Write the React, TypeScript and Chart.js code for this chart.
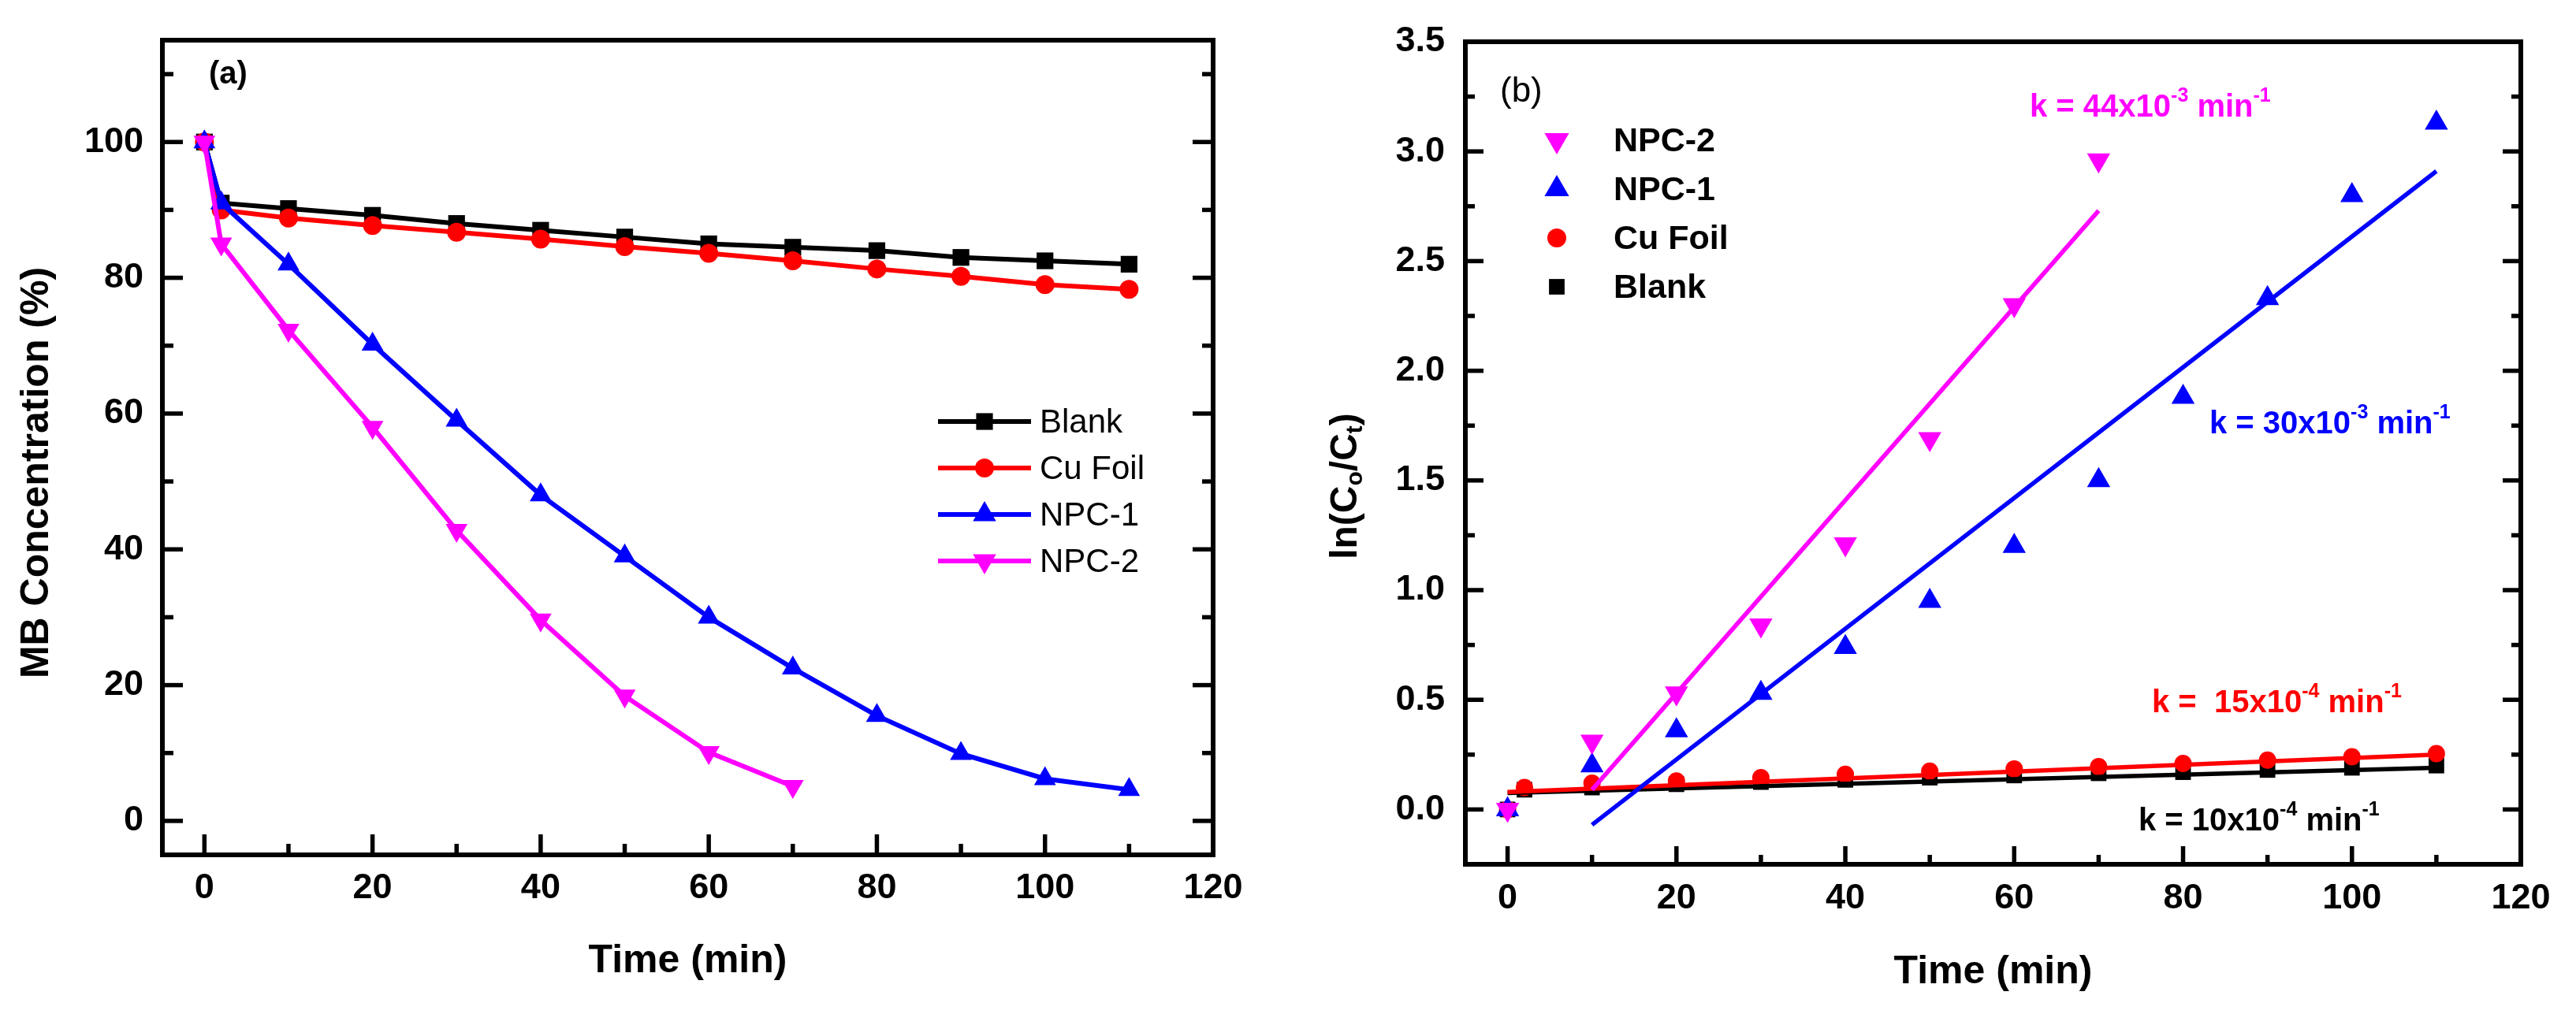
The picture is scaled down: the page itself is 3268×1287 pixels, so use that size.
import React, { useEffect, useRef } from 'react';
import { Chart, registerables } from 'chart.js';

Chart.register(...registerables);

const FONT = '"Liberation Sans", Arial, sans-serif';
Chart.defaults.font.family = FONT;
Chart.defaults.color = '#000';

// ---- panel (a): MB concentration (%) vs time ----
const timeA = [0, 2, 10, 20, 30, 40, 50, 60, 70, 80, 90, 100, 110];
const blankA = [100, 91, 90.2, 89.2, 88, 87, 86, 85, 84.5, 84, 83, 82.5, 82];
const cuFoilA = [100, 90, 88.8, 87.7, 86.7, 85.7, 84.6, 83.6, 82.5, 81.3, 80.2, 79, 78.3];
const npc1A = [100, 91, 82, 70.2, 59, 48, 39, 30, 22.5, 15.5, 9.9, 6.2, 4.6];
const timeA2 = [0, 2, 10, 20, 30, 40, 50, 60, 70];
const npc2A = [100, 85, 72.3, 58, 42.8, 29.6, 18.4, 10.1, 5.1];

// ---- panel (b): ln(Co/Ct) vs time, points + linear fits ----
const timeB = [0, 2, 10, 20, 30, 40, 50, 60, 70, 80, 90, 100, 110];
const blankB = [0, 0.09, 0.1, 0.115, 0.125, 0.135, 0.145, 0.155, 0.165, 0.17, 0.18, 0.19, 0.2];
const cuFoilB = [0, 0.1, 0.12, 0.13, 0.145, 0.16, 0.175, 0.185, 0.195, 0.21, 0.225, 0.24, 0.255];
const timeB1 = [0, 10, 20, 30, 40, 50, 60, 70, 80, 90, 100, 110];
const npc1B = [0, 0.2, 0.36, 0.53, 0.74, 0.95, 1.2, 1.5, 1.88, 2.33, 2.8, 3.13];
const timeB2 = [0, 10, 20, 30, 40, 50, 60, 70];
const npc2B = [0, 0.31, 0.53, 0.84, 1.21, 1.69, 2.3, 2.96];

const fitTimeFlat = [0, 110];
const blankFit = [0.075, 0.19];
const cuFoilFit = [0.08, 0.25];
const fitTime1 = [10, 110];
const npc1Fit = [-0.07, 2.91];
const fitTime2 = [10, 70];
const npc2Fit = [0.09, 2.73];

// ---- ticks ----
const xTicks = [0, 20, 40, 60, 80, 100, 120];
const xMinor = [10, 30, 50, 70, 90, 110];
const yTicksA = [0, 20, 40, 60, 80, 100];
const yMinorA = [10, 30, 50, 70, 90, 110];
const yTicksB = [0, 0.5, 1, 1.5, 2, 2.5, 3, 3.5];
const yMinorB = [0.25, 0.75, 1.25, 1.75, 2.25, 2.75, 3.25];

const BLACK = '#000000';
const RED = '#FF0000';
const BLUE = '#0000FF';
const MAGENTA = '#FF00FF';

const W = 1634;
const H = 1287;

const pts = (xs: number[], ys: number[]) => xs.map((x, i) => ({ x, y: ys[i] }));

function drawMarker(ctx: CanvasRenderingContext2D, style: string, x: number, y: number, r: number) {
  ctx.beginPath();
  if (style === 'rect') {
    const s = r * Math.SQRT1_2;
    ctx.rect(x - s, y - s, 2 * s, 2 * s);
  } else if (style === 'circle') {
    ctx.arc(x, y, r, 0, Math.PI * 2);
  } else {
    const d = style === 'down' ? -1 : 1;
    ctx.moveTo(x, y - d * r);
    ctx.lineTo(x + 0.866 * r, y + d * 0.5 * r);
    ctx.lineTo(x - 0.866 * r, y + d * 0.5 * r);
    ctx.closePath();
  }
  ctx.fill();
}

type Part = { t: string; sup?: boolean; sub?: boolean };

// draws text with super/subscripts, left aligned, vertically centred on y
function drawRich(ctx: CanvasRenderingContext2D, parts: Part[], x: number, y: number, size: number, weight: string) {
  ctx.textBaseline = 'middle';
  ctx.textAlign = 'left';
  let cx = x;
  parts.forEach((p) => {
    const small = p.sup || p.sub;
    ctx.font = `${weight} ${small ? Math.round(size * 0.62) : size}px ${FONT}`;
    const dy = p.sup ? -size * 0.38 : p.sub ? size * 0.25 : 0;
    ctx.fillText(p.t, cx, y + dy);
    cx += ctx.measureText(p.t).width;
  });
  return cx - x;
}

function measureRich(ctx: CanvasRenderingContext2D, parts: Part[], size: number, weight: string) {
  let w = 0;
  parts.forEach((p) => {
    const small = p.sup || p.sub;
    ctx.font = `${weight} ${small ? Math.round(size * 0.62) : size}px ${FONT}`;
    w += ctx.measureText(p.t).width;
  });
  return w;
}

function framePlugin(xMin: number[], yMin: number[], major: number, minor: number) {
  return {
    id: 'frame',
    afterDatasetsDraw(chart: any) {
      const { ctx, chartArea } = chart;
      const { left, right, top, bottom } = chartArea;
      const xs = chart.scales.x;
      const ys = chart.scales.y;
      ctx.save();
      ctx.strokeStyle = BLACK;
      ctx.lineWidth = 5.5;
      ctx.lineCap = 'butt';
      const seg = (x0: number, y0: number, x1: number, y1: number) => {
        ctx.beginPath();
        ctx.moveTo(x0, y0);
        ctx.lineTo(x1, y1);
        ctx.stroke();
      };
      xs.ticks.forEach((t: any) => {
        const px = xs.getPixelForValue(t.value);
        seg(px, bottom, px, bottom - major);
      });
      xMin.forEach((v) => {
        const px = xs.getPixelForValue(v);
        seg(px, bottom, px, bottom - minor);
      });
      ys.ticks.forEach((t: any) => {
        const py = ys.getPixelForValue(t.value);
        seg(left, py, left + major, py);
        seg(right, py, right - major, py);
      });
      yMin.forEach((v) => {
        const py = ys.getPixelForValue(v);
        seg(left, py, left + minor, py);
        seg(right, py, right - minor, py);
      });
      ctx.lineWidth = 6;
      ctx.strokeRect(left, top, right - left, bottom - top);
      ctx.restore();
    },
  };
}

function xAxis(axisHeight: number, labelPad: number, titlePad: number) {
  return {
    type: 'linear',
    min: -5,
    max: 120,
    afterBuildTicks: (s: any) => {
      s.ticks = xTicks.map((v) => ({ value: v }));
    },
    afterFit: (s: any) => {
      s.height = axisHeight;
    },
    grid: { display: false, drawTicks: false },
    border: { display: false },
    ticks: {
      padding: labelPad,
      autoSkip: false,
      maxRotation: 0,
      color: BLACK,
      font: { size: 45, weight: 'bold' },
      callback: (v: any) => String(v),
    },
    title: {
      display: true,
      text: 'Time (min)',
      color: BLACK,
      font: { size: 50, weight: 'bold' },
      padding: { top: 0, bottom: titlePad },
    },
  };
}

function yAxis(min: number, max: number, ticks: number[], axisWidth: number, pad: number, fmt: (v: number) => string) {
  return {
    type: 'linear',
    min,
    max,
    afterBuildTicks: (s: any) => {
      s.ticks = ticks.map((v) => ({ value: v }));
    },
    afterFit: (s: any) => {
      s.width = axisWidth;
    },
    grid: { display: false, drawTicks: false },
    border: { display: false },
    ticks: {
      padding: pad,
      autoSkip: false,
      color: BLACK,
      font: { size: 45, weight: 'bold' },
      callback: (v: any) => fmt(Number(v)),
    },
  };
}

const lineSet = (label: string, xs: number[], ys: number[], color: string, style: string, r: number, rot = 0) => ({
  label,
  data: pts(xs, ys),
  showLine: true,
  borderColor: color,
  backgroundColor: color,
  borderWidth: 6,
  pointStyle: style,
  pointRotation: rot,
  pointRadius: r,
  pointBorderWidth: 0,
  tension: 0,
});

const markSet = (label: string, xs: number[], ys: number[], color: string, style: string, r: number, rot = 0) => ({
  label,
  data: pts(xs, ys),
  showLine: false,
  backgroundColor: color,
  borderColor: color,
  pointStyle: style,
  pointRotation: rot,
  pointRadius: r,
  pointBorderWidth: 0,
});

const fitSet = (label: string, xs: number[], ys: number[], color: string) => ({
  label,
  data: pts(xs, ys),
  showLine: true,
  borderColor: color,
  borderWidth: 5.5,
  pointRadius: 0,
  tension: 0,
});

function configA() {
  const legendRows = [
    { name: 'Blank', color: BLACK, style: 'rect', r: 15 },
    { name: 'Cu Foil', color: RED, style: 'circle', r: 12 },
    { name: 'NPC-1', color: BLUE, style: 'up', r: 17 },
    { name: 'NPC-2', color: MAGENTA, style: 'down', r: 17 },
  ];
  const labels = {
    id: 'labelsA',
    afterDraw(chart: any) {
      const ctx: CanvasRenderingContext2D = chart.ctx;
      ctx.save();
      // y title
      ctx.translate(47, 600);
      ctx.rotate(-Math.PI / 2);
      ctx.fillStyle = BLACK;
      ctx.font = `bold 50px ${FONT}`;
      ctx.textAlign = 'center';
      ctx.textBaseline = 'middle';
      ctx.fillText('MB Concentration (%)', 0, 0);
      ctx.restore();

      ctx.save();
      ctx.fillStyle = BLACK;
      ctx.font = `bold 40px ${FONT}`;
      ctx.textBaseline = 'middle';
      ctx.fillText('(a)', 265, 95);

      legendRows.forEach((row, i) => {
        const y = 535 + i * 59;
        ctx.strokeStyle = row.color;
        ctx.fillStyle = row.color;
        ctx.lineWidth = 6;
        ctx.beginPath();
        ctx.moveTo(1190, y);
        ctx.lineTo(1308, y);
        ctx.stroke();
        drawMarker(ctx, row.style, 1249, y, row.r);
        ctx.fillStyle = BLACK;
        ctx.font = `42px ${FONT}`;
        ctx.textAlign = 'left';
        ctx.textBaseline = 'middle';
        ctx.fillText(row.name, 1319, y + 2);
      });
      ctx.restore();
    },
  };
  return {
    type: 'scatter',
    data: {
      datasets: [
        lineSet('NPC-2', timeA2, npc2A, MAGENTA, 'triangle', 16, 180),
        lineSet('NPC-1', timeA, npc1A, BLUE, 'triangle', 16),
        lineSet('Cu Foil', timeA, cuFoilA, RED, 'circle', 12),
        lineSet('Blank', timeA, blankA, BLACK, 'rect', 15),
      ],
    },
    options: {
      responsive: true,
      maintainAspectRatio: false,
      animation: false,
      layout: { padding: { left: 0, top: 45, right: W - 1539, bottom: 0 } },
      plugins: { legend: { display: false }, tooltip: { enabled: false } },
      scales: {
        x: xAxis(H - 1085, 16, 37),
        y: yAxis(-5, 115, yTicksA, 206, 24, (v) => String(v)),
      },
    },
    plugins: [framePlugin(xMinor, yMinorA, 26, 14), labels],
  };
}

function configB() {
  const legendRows = [
    { name: 'NPC-2', color: MAGENTA, style: 'down', r: 18 },
    { name: 'NPC-1', color: BLUE, style: 'up', r: 18 },
    { name: 'Cu Foil', color: RED, style: 'circle', r: 12 },
    { name: 'Blank', color: BLACK, style: 'rect', r: 14 },
  ];
  const notes: { parts: Part[]; color: string; x: number; y: number }[] = [
    { parts: [{ t: 'k = 44x10' }, { t: '-3', sup: true }, { t: ' min' }, { t: '-1', sup: true }], color: MAGENTA, x: 941, y: 137 },
    { parts: [{ t: 'k = 30x10' }, { t: '-3', sup: true }, { t: ' min' }, { t: '-1', sup: true }], color: BLUE, x: 1169, y: 539 },
    { parts: [{ t: 'k =  15x10' }, { t: '-4', sup: true }, { t: ' min' }, { t: '-1', sup: true }], color: RED, x: 1096, y: 893 },
    { parts: [{ t: 'k = 10x10' }, { t: '-4', sup: true }, { t: ' min' }, { t: '-1', sup: true }], color: BLACK, x: 1079, y: 1043 },
  ];
  const labels = {
    id: 'labelsB',
    afterDraw(chart: any) {
      const ctx: CanvasRenderingContext2D = chart.ctx;
      // y title ln(Co/Ct)
      const title: Part[] = [{ t: 'ln(C' }, { t: 'o', sub: true }, { t: '/C' }, { t: 't', sub: true }, { t: ')' }];
      ctx.save();
      ctx.fillStyle = BLACK;
      const tw = measureRich(ctx, title, 48, 'bold');
      ctx.translate(74, 617);
      ctx.rotate(-Math.PI / 2);
      drawRich(ctx, title, -tw / 2, 0, 48, 'bold');
      ctx.restore();

      ctx.save();
      ctx.fillStyle = BLACK;
      ctx.font = `44px ${FONT}`;
      ctx.textBaseline = 'middle';
      ctx.textAlign = 'left';
      ctx.fillText('(b)', 269, 117);

      legendRows.forEach((row, i) => {
        const y = 178 + i * 62;
        ctx.fillStyle = row.color;
        drawMarker(ctx, row.style, 341, y, row.r);
        ctx.fillStyle = BLACK;
        ctx.font = `bold 43px ${FONT}`;
        ctx.textAlign = 'left';
        ctx.textBaseline = 'middle';
        ctx.fillText(row.name, 413, y + 2);
      });

      notes.forEach((n) => {
        ctx.fillStyle = n.color;
        drawRich(ctx, n.parts, n.x, n.y, 40, 'bold');
      });
      ctx.restore();
    },
  };
  return {
    type: 'scatter',
    data: {
      datasets: [
        fitSet('NPC-2 fit', fitTime2, npc2Fit, MAGENTA),
        fitSet('NPC-1 fit', fitTime1, npc1Fit, BLUE),
        fitSet('Cu Foil fit', fitTimeFlat, cuFoilFit, RED),
        fitSet('Blank fit', fitTimeFlat, blankFit, BLACK),
        markSet('NPC-2', timeB2, npc2B, MAGENTA, 'triangle', 17, 180),
        markSet('NPC-1', timeB1, npc1B, BLUE, 'triangle', 17),
        markSet('Cu Foil', timeB, cuFoilB, RED, 'circle', 11),
        markSet('Blank', timeB, blankB, BLACK, 'rect', 14),
      ],
    },
    options: {
      responsive: true,
      maintainAspectRatio: false,
      animation: false,
      layout: { padding: { left: 0, top: 53, right: W - (3198 - W), bottom: 0 } },
      plugins: { legend: { display: false }, tooltip: { enabled: false } },
      scales: {
        x: xAxis(H - 1097, 17, 23),
        y: yAxis(-0.25, 3.5, yTicksB, 1859 - W, 26, (v) => v.toFixed(1)),
      },
    },
    plugins: [framePlugin(xMinor, yMinorB, 23, 12), labels],
  };
}

const Panel: React.FC<{ left: number; makeConfig: () => any }> = ({ left, makeConfig }) => {
  const canvasRef = useRef<HTMLCanvasElement>(null);
  const chartRef = useRef<Chart | null>(null);

  useEffect(() => {
    if (!canvasRef.current) return;
    if (chartRef.current) chartRef.current.destroy();
    chartRef.current = new Chart(canvasRef.current, makeConfig());
    return () => {
      if (chartRef.current) {
        chartRef.current.destroy();
        chartRef.current = null;
      }
    };
  }, [makeConfig]);

  return (
    <div style={{ position: 'absolute', left, top: 0, width: W, height: H }}>
      <canvas ref={canvasRef} />
    </div>
  );
};

export default function App() {
  return (
    <div style={{ position: 'fixed', left: 0, top: 0, width: 3268, height: H, background: '#fff' }}>
      <Panel left={0} makeConfig={configA} />
      <Panel left={W} makeConfig={configB} />
    </div>
  );
}
